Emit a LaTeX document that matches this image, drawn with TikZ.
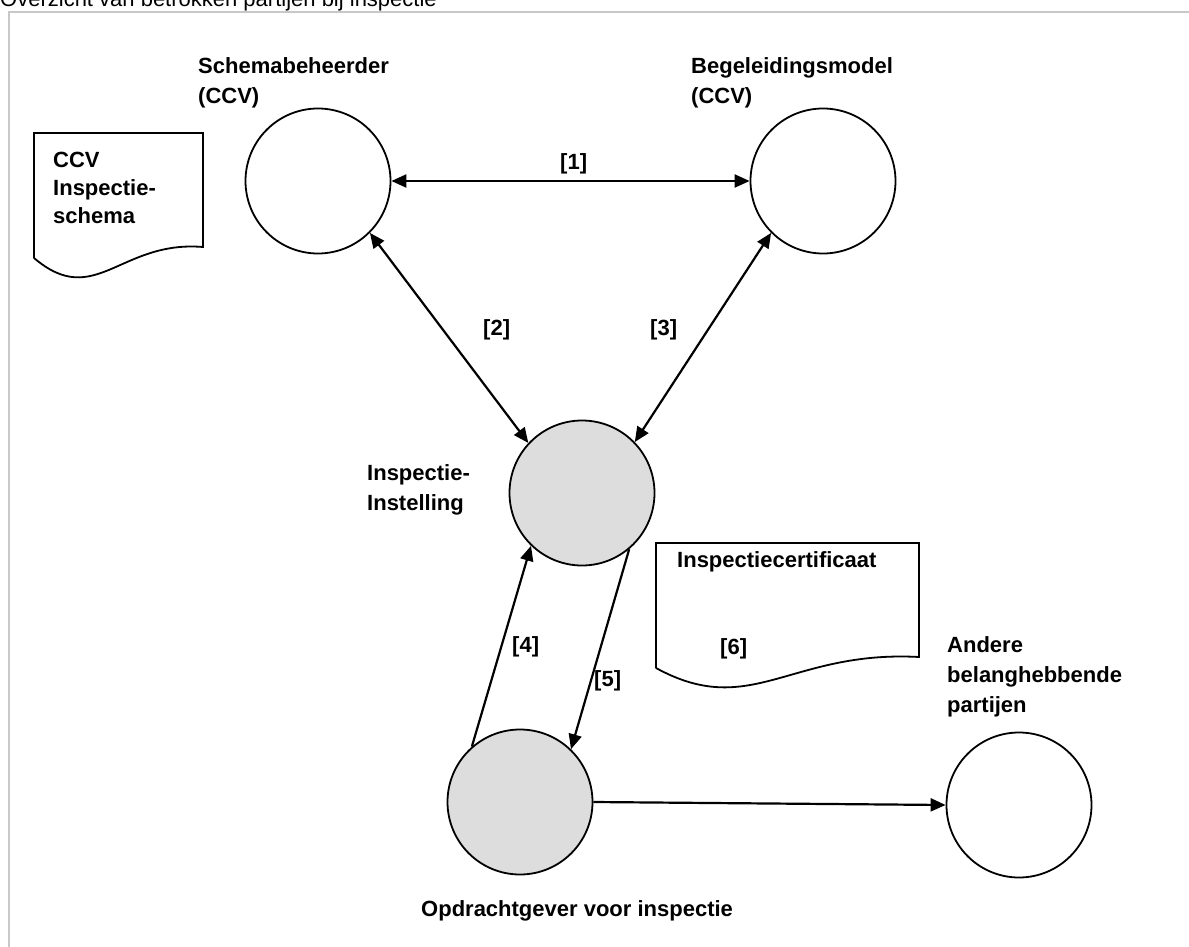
\documentclass[tikz,border=0pt]{standalone}
\usepackage{fontspec}
\setmainfont{Liberation Sans}
\newfontfamily\titlefont{Liberation Sans}
\usetikzlibrary{arrows.meta}
\definecolor{framegray}{RGB}{200,200,200}
\definecolor{fillgray}{RGB}{221,221,221}
\begin{document}
\begin{tikzpicture}[x=1pt,y=-1pt,
  circ/.style={circle,draw,line width=1.8pt,minimum size=145pt,inner sep=0pt},
  party/.style={circ,fill=fillgray},
  conn/.style={line width=2.2pt,-{Triangle[length=15pt,width=13pt]}},
  biconn/.style={line width=2.2pt,{Triangle[length=15pt,width=13pt]}-{Triangle[length=15pt,width=13pt]}},
  lbl/.style={anchor=base west,inner sep=0pt,font=\bfseries\fontsize{22}{30}\selectfont,align=left},
  doc/.style={line width=1.8pt}]
\useasboundingbox (0,0) rectangle (1189,947);
% frame and title
\draw[framegray,line width=2pt] (9,947) -- (9,12) -- (1189,12);
\node[anchor=base west,inner sep=0pt,font=\titlefont\fontsize{22}{26}\selectfont] (title) at (0,7) {Overzicht van betrokken partijen bij inspectie};
% circles
\node[circ] (sb) at (318,181) {};
\node[circ] (bm) at (823,181) {};
\node[party] (ii) at (582,493) {};
\node[party] (og) at (520,802) {};
\node[circ] (an) at (1019,805) {};
% labels (base anchor = baseline of the last line)
\node[lbl] (lsb) at (198,104) {Schemabeheerder\\(CCV)};
\node[lbl] (lbm) at (691,104) {Begeleidingsmodel\\(CCV)};
\node[lbl] (lii) at (367,510) {Inspectie-\\Instelling};
\node[lbl] (lan) at (947,712) {Andere\\belanghebbende\\partijen};
\node[lbl] (log) at (421,916) {Opdrachtgever voor inspectie};
% connectors
\draw[biconn] (sb) -- (bm);
\draw[biconn] (sb.-45) -- (ii.137);
\draw[biconn] (bm.-135) -- (ii.44);
\draw[conn] (og.131) -- (ii.226);
\draw[conn] (ii.-50) -- (og.46);
\draw[conn] (og.east) -- (an.west);
\node[lbl] (n1) at (560,170) {[1]};
\node[lbl] (n2) at (483,335) {[2]};
\node[lbl] (n3) at (650,335) {[3]};
\node[lbl] (n4) at (512,652) {[4]};
\node[lbl] (n5) at (594,686) {[5]};
% documents
\draw[doc] (34,258) -- (34,133) -- (203,133) -- (203,247) .. controls (120,240) and (95,310) .. (34,258);
\node[lbl,font=\bfseries\fontsize{22}{28}\selectfont] (ldoc1) at (53,223) {CCV\\Inspectie-\\schema};
\draw[doc] (656,668) -- (656,543) -- (919,543) -- (919,657) .. controls (790,650) and (751,720) .. (656,668);
\node[lbl] (ldoc2) at (677,567) {Inspectiecertificaat};
\node[lbl] (n6) at (720,654) {[6]};
\end{tikzpicture}
\end{document}
